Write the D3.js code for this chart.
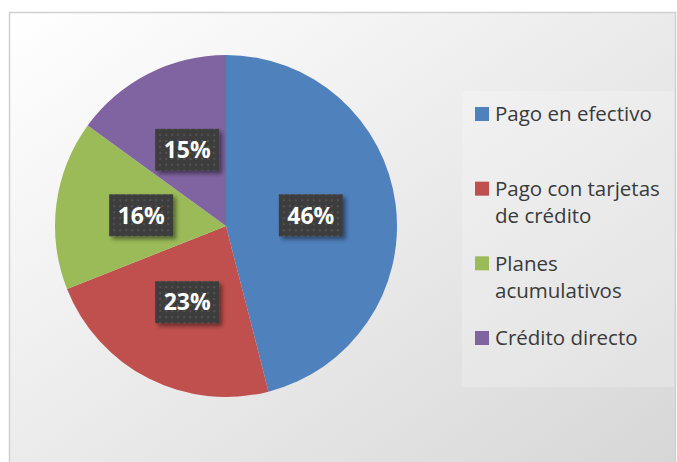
<!DOCTYPE html>
<html>
<head>
<meta charset="utf-8">
<script src="https://cdn.jsdelivr.net/npm/d3@7"></script>
<style>
  body { margin: 0; background: #fff; }
  svg { display: block; }
</style>
</head>
<body>
<div id="chart"></div>
<script>
const width = 677;
const height = 462;

const categories = ['Pago en efectivo', 'Pago con tarjetas de crédito', 'Planes acumulativos', 'Crédito directo'];
const legendLines = [['Pago en efectivo'], ['Pago con tarjetas', 'de crédito'], ['Planes', 'acumulativos'], ['Crédito directo']];
const values = [46, 23, 16, 15];
const colors = ['#4f81bd', '#c0504d', '#9bbb59', '#8064a2'];

const cx = 226, cy = 226, radius = 171;

const svg = d3.select('#chart').append('svg')
  .attr('width', width)
  .attr('height', height);

const defs = svg.append('defs');

const grad = defs.append('linearGradient')
  .attr('id', 'bg')
  .attr('x1', '0%').attr('y1', '0%')
  .attr('x2', '100%').attr('y2', '100%');
grad.append('stop').attr('offset', '0%').attr('stop-color', '#ffffff');
grad.append('stop').attr('offset', '100%').attr('stop-color', '#d6d6d6');

// dotted dark fill of the data labels
const pat = defs.append('pattern')
  .attr('id', 'dots')
  .attr('width', 6).attr('height', 6)
  .attr('patternUnits', 'userSpaceOnUse');
pat.append('rect').attr('width', 6).attr('height', 6).attr('fill', '#3d3d3d');
pat.append('rect').attr('x', 2).attr('y', 2).attr('width', 2).attr('height', 2).attr('fill', '#535353');

const shadow = defs.append('filter').attr('id', 'shadow')
  .attr('x', '-20%').attr('y', '-20%').attr('width', '150%').attr('height', '150%');
shadow.append('feDropShadow')
  .attr('dx', 3).attr('dy', 3).attr('stdDeviation', 2)
  .attr('flood-color', '#000').attr('flood-opacity', 0.45);

// chart area
svg.append('rect')
  .attr('x', 9.5).attr('y', 12.5)
  .attr('width', 666).attr('height', 470)
  .attr('fill', 'url(#bg)')
  .attr('stroke', '#d0d0d0')
  .attr('stroke-width', 1.5);

// legend box
svg.append('rect')
  .attr('x', 462).attr('y', 91)
  .attr('width', 212).attr('height', 296)
  .attr('fill', '#fff')
  .attr('fill-opacity', 0.22);

const pie = d3.pie().sort(null).value(d => d);
const arcs = pie(values);

const arc = d3.arc().innerRadius(0).outerRadius(radius);
const labelArc = d3.arc().innerRadius(radius * 0.5).outerRadius(radius * 0.5);

const g = svg.append('g').attr('transform', `translate(${cx},${cy})`);

g.selectAll('path').data(arcs).enter().append('path')
  .attr('d', arc)
  .attr('fill', (d, i) => colors[i]);

const total = d3.sum(values);
const labels = g.selectAll('g.lbl').data(arcs).enter().append('g')
  .attr('class', 'lbl')
  .attr('transform', d => `translate(${labelArc.centroid(d)})`);

labels.append('rect')
  .attr('x', -32).attr('y', -21)
  .attr('width', 64).attr('height', 42)
  .attr('fill', 'url(#dots)')
  .attr('filter', 'url(#shadow)');

labels.append('text')
  .attr('text-anchor', 'middle')
  .attr('dy', '0.36em')
  .attr('fill', '#fff')
  .style('font-family', '"Open Sans", sans-serif')
  .style('font-weight', 'bold')
  .style('font-size', '23px')
  .text(d => Math.round(d.data / total * 100) + '%');

// legend
const legendY = d3.scalePoint()
  .domain(categories)
  .range([114, 338]);

const legend = svg.append('g');
const item = legend.selectAll('g').data(categories).enter().append('g')
  .attr('transform', d => `translate(475,${legendY(d)})`);

item.append('rect')
  .attr('x', 0).attr('y', -7)
  .attr('width', 14).attr('height', 14)
  .attr('fill', (d, i) => colors[i]);

item.append('text')
  .attr('x', 20)
  .attr('fill', '#3a3a3a')
  .style('font-family', '"Open Sans", sans-serif')
  .style('font-size', '20.5px')
  .selectAll('tspan').data((d, i) => legendLines[i]).enter().append('tspan')
  .attr('x', 20)
  .attr('y', (d, j) => j * 27)
  .attr('dy', '0.36em')
  .text(d => d);
</script>
</body>
</html>
